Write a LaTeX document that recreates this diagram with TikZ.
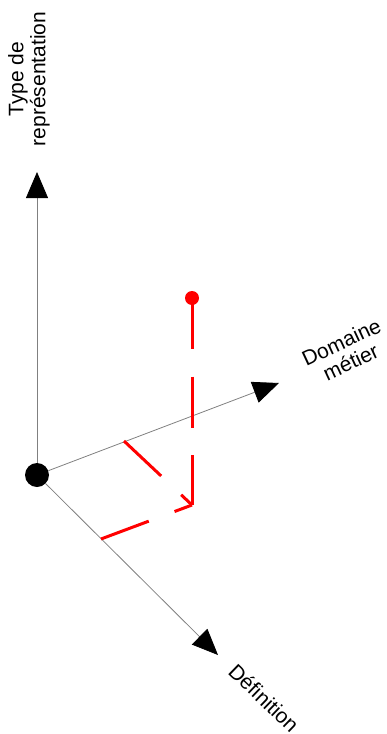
\documentclass[tikz,border=0pt]{standalone}
\usepackage{fontspec}
\setmainfont{Liberation Sans}
\usetikzlibrary{arrows.meta}
\tikzset{
  axis/.style={draw=gray, line width=0.8pt, -{Triangle[length=26pt,width=22pt,color=black,fill=black]}},
  proj/.style={draw=red, line width=3pt, dash pattern=on 51pt off 27.5pt},
  lbl/.style={font=\fontsize{21}{22}\selectfont, align=center, inner sep=0pt}
}
\begin{document}
\begin{tikzpicture}[x=1pt,y=-1pt]
\useasboundingbox (0,0) rectangle (386,734);
\node[circle, fill=black, minimum size=24pt, inner sep=0pt] (O) at (37,475) {};
\node[circle, fill=red, minimum size=14pt, inner sep=0pt] (P) at (192,298) {};
\coordinate (T1) at (37,172);
\coordinate (T2) at (279,383);
\coordinate (T3) at (218,655);
\coordinate (C) at (192,505);
\coordinate (A) at (124,441);
\coordinate (B) at (101,539);
\draw[axis] (O) -- (T1);
\draw[axis] (O) -- (T2);
\draw[axis] (O) -- (T3);
\draw[proj] (P.center) -- (C);
\draw[proj] (A) -- (C);
\draw[proj] (B) -- (C);
\node[lbl, rotate=90] (L1) at (29,79) {Type de\\représentation};
\node[lbl, rotate=25] (L2) at (346,352) {Domaine\\métier};
\node[lbl, rotate=-44] (L3) at (264,698) {Définition};
\end{tikzpicture}
\end{document}
